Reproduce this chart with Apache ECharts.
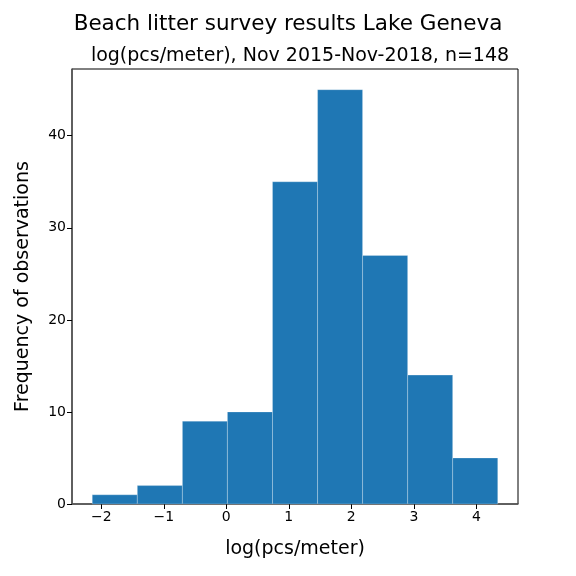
<!DOCTYPE html>
<html>
<head>
<meta charset="utf-8">
<script src="https://cdn.jsdelivr.net/npm/echarts@6/dist/echarts.min.js"></script>
<style>
  html, body { margin: 0; padding: 0; background: #fff; }
  #chart { width: 576px; height: 576px; }
</style>
</head>
<body>
<div id="chart"></div>
<script>
// bin edges (log pcs/meter) and counts per bin
const binEdges = [-2.144, -1.423, -0.702, 0.018, 0.739, 1.460, 2.180, 2.901, 3.621, 4.342];
const counts = [1, 2, 9, 10, 35, 45, 27, 14, 5];
const xTicks = [-2, -1, 0, 1, 2, 3, 4];
const yTicks = [0, 10, 20, 30, 40];

const bins = counts.map((c, i) => [binEdges[i], binEdges[i + 1], c]);

const chart = echarts.init(document.getElementById('chart'), null, { renderer: 'canvas' });
const font = 'DejaVu Sans';

chart.setOption({
  animation: false,
  textStyle: { fontFamily: font },
  title: [{
    text: 'Beach litter survey results Lake Geneva',
    left: 'center', top: 8,
    textStyle: { fontFamily: font, fontSize: 21.5, fontWeight: 'normal', color: '#000' }
  }, {
    text: 'log(pcs/meter), Nov 2015-Nov-2018, n=148',
    left: 295, top: 42, textAlign: 'center',
    textStyle: { fontFamily: font, fontSize: 19, fontWeight: 'normal', color: '#000' }
  }],
  grid: {
    left: 72, right: 58, top: 69, bottom: 72,
    show: true, borderColor: '#000', borderWidth: 1, backgroundColor: '#fff'
  },
  xAxis: {
    type: 'value',
    min: -2.468, max: 4.666,
    name: 'log(pcs/meter)',
    nameLocation: 'middle', nameGap: 36,
    nameTextStyle: { fontFamily: font, fontSize: 19, color: '#000' },
    axisLine: { show: true, onZero: false, lineStyle: { color: '#555', width: 1.5 } },
    axisTick: { show: true, inside: false, length: 5, customValues: xTicks, lineStyle: { color: '#000' } },
    axisLabel: { customValues: xTicks, color: '#000', fontSize: 14, margin: 6,
      formatter: v => (v < 0 ? '\u2212' + Math.abs(v) : String(v)) },
    splitLine: { show: false }
  },
  yAxis: {
    type: 'value',
    min: 0, max: 47.25,
    name: 'Frequency of observations',
    nameLocation: 'middle', nameGap: 39,
    nameTextStyle: { fontFamily: font, fontSize: 19, color: '#000' },
    axisLine: { show: true, onZero: false, lineStyle: { color: '#555', width: 1.5 } },
    axisTick: { show: true, inside: false, length: 5, customValues: yTicks, lineStyle: { color: '#000' } },
    axisLabel: { customValues: yTicks, color: '#000', fontSize: 14, margin: 6 },
    splitLine: { show: false }
  },
  series: [{
    type: 'custom',
    data: bins,
    encode: { x: [0, 1], y: 2 },
    renderItem: function (params, api) {
      const p0 = api.coord([api.value(0), 0]);
      const p1 = api.coord([api.value(1), api.value(2)]);
      return {
        type: 'rect',
        shape: { x: p0[0], y: p1[1], width: p1[0] - p0[0], height: p0[1] - p1[1] },
        style: { fill: '#1f77b4', stroke: 'rgba(255,255,255,0.25)', lineWidth: 1 }
      };
    }
  }]
});
</script>
</body>
</html>
